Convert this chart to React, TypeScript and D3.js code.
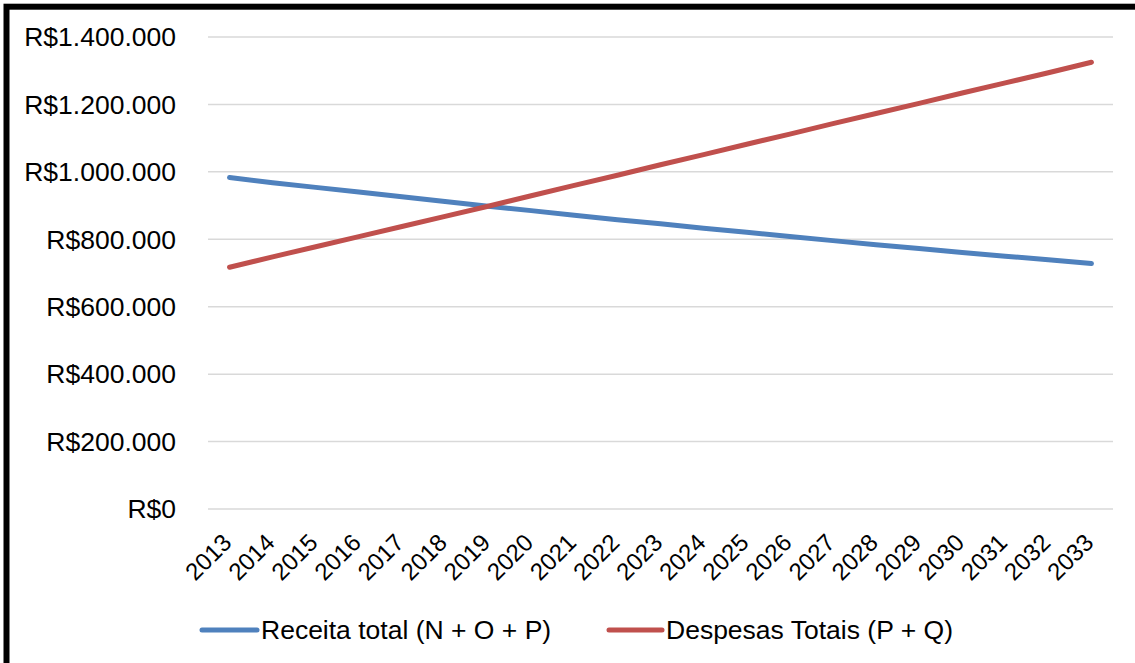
import React from "react";
import * as d3 from "d3";

const years: string[] = [
  "2013", "2014", "2015", "2016", "2017", "2018", "2019", "2020", "2021", "2022", "2023",
  "2024", "2025", "2026", "2027", "2028", "2029", "2030", "2031", "2032", "2033",
];

// Receita total (N + O + P)
const receita: number[] = [
  983000, 968000, 954000, 940000, 926000, 912000, 898000, 885000, 871000, 858000, 846000,
  833000, 821000, 808000, 796000, 784000, 773000, 761000, 750000, 739000, 728000,
];

// Despesas Totais (P + Q)
const despesas: number[] = [
  717000, 748000, 778000, 808000, 838000, 868000, 898000, 929000, 960000, 990000, 1021000,
  1051000, 1082000, 1112000, 1143000, 1173000, 1203000, 1234000, 1264000, 1294000, 1325000,
];

const yTicks: number[] = [0, 200000, 400000, 600000, 800000, 1000000, 1200000, 1400000];

const seriesNames: string[] = ["Receita total (N + O + P)", "Despesas Totais (P + Q)"];
const seriesColors: string[] = ["#4F81BD", "#C0504D"];

const W = 1135;
const H = 663;
const FONT = "'Liberation Sans', Arial, sans-serif";

const brl = (v: number) => "R$" + d3.format(",.0f")(v).replace(/,/g, ".");

export default function App() {
  const x = d3.scaleBand<string>().domain(years).range([208, 1113]);
  const y = d3.scaleLinear().domain([0, 1400000]).range([509, 37]);
  const cx = (yr: string) => (x(yr) ?? 0) + x.bandwidth() / 2;

  const line = d3
    .line<number>()
    .x((_, i) => cx(years[i]))
    .y((v) => y(v));

  const series = [receita, despesas];

  const legendItems = [
    { x0: 202, x1: 257, tx: 261 },
    { x0: 609, x1: 662, tx: 666 },
  ];

  return (
    <svg
      width={W}
      height={H}
      style={{ position: "absolute", left: 0, top: 0, background: "#fff" }}
      fontFamily={FONT}
    >
      <rect x={0} y={0} width={W} height={H} fill="#fff" />

      {/* horizontal gridlines */}
      {yTicks.map((t) => (
        <line
          key={t}
          x1={208}
          x2={1113}
          y1={y(t)}
          y2={y(t)}
          stroke="#D9D9D9"
          strokeWidth={1.5}
        />
      ))}

      {/* value axis labels */}
      {yTicks.map((t) => (
        <text
          key={"l" + t}
          x={176}
          y={y(t)}
          dy="0.35em"
          textAnchor="end"
          fontSize={26.5}
          fill="#000"
        >
          {brl(t)}
        </text>
      ))}

      {/* category axis labels */}
      {years.map((yr) => (
        <text
          key={yr}
          transform={`translate(${cx(yr) + 3.5},${544}) rotate(-45)`}
          textAnchor="end"
          fontSize={24}
          fill="#000"
        >
          {yr}
        </text>
      ))}

      {/* series lines */}
      {series.map((s, i) => (
        <path
          key={i}
          d={line(s) ?? ""}
          fill="none"
          stroke={seriesColors[i]}
          strokeWidth={5}
          strokeLinecap="round"
          strokeLinejoin="round"
        />
      ))}

      {/* legend */}
      {legendItems.map((it, i) => (
        <g key={"lg" + i}>
          <line
            x1={it.x0}
            x2={it.x1}
            y1={630}
            y2={630}
            stroke={seriesColors[i]}
            strokeWidth={5}
            strokeLinecap="round"
          />
          <text x={it.tx} y={630} dy="0.35em" fontSize={26.5} fill="#000">
            {seriesNames[i]}
          </text>
        </g>
      ))}

      {/* chart frame */}
      <rect
        x={6.5}
        y={6.7}
        width={W + 100}
        height={H + 100}
        fill="none"
        stroke="#000"
        strokeWidth={6}
      />
    </svg>
  );
}
